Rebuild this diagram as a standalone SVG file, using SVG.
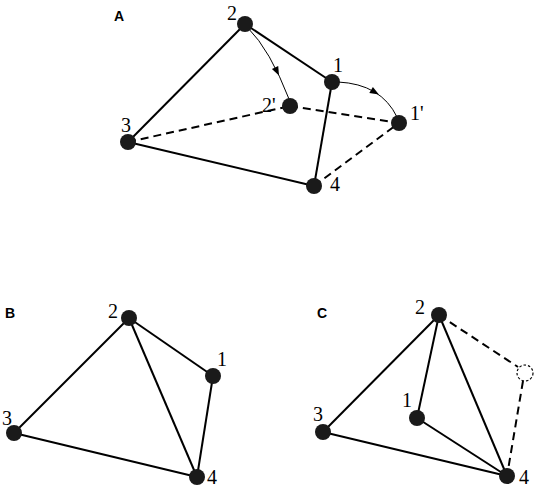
<svg xmlns="http://www.w3.org/2000/svg" width="536" height="489" viewBox="0 0 536 489">
<defs>
<style>
.e{stroke:#000;stroke-width:2;fill:none}
.d{stroke:#000;stroke-width:2;fill:none;stroke-dasharray:8 5}
.c{stroke:#000;stroke-width:1;fill:none}
.n{fill:#1a1a1a}
.t{font-family:"Liberation Serif",serif;font-size:20px;fill:#000}
.p{font-family:"Liberation Sans",sans-serif;font-size:14px;font-weight:bold;fill:#000}
</style>
</defs>
<rect width="536" height="489" fill="#fff"/>
<text class="p" x="114" y="21">A</text>
<text class="p" x="5" y="318">B</text>
<text class="p" x="317" y="318">C</text>
<g id="connectors">
<line class="e" x1="245" y1="24" x2="332" y2="82"/>
<line class="e" x1="245" y1="24" x2="128" y2="142"/>
<line class="e" x1="332" y1="82" x2="314" y2="186"/>
<line class="e" x1="128" y1="142" x2="314" y2="186"/>
<line class="d" x1="128" y1="142" x2="290" y2="106"/>
<line class="d" x1="290" y1="106" x2="399" y2="123"/>
<line class="d" x1="314" y1="186" x2="399" y2="123"/>
<path class="c" d="M248,28 Q270,50 289,99"/>
<polygon points="279,75.6 278.2,66 271.9,69" fill="#000"/>
<path class="c" d="M338,82 Q381,84 397,117"/>
<polygon points="378.9,94.5 369.3,92.9 372.9,86.9" fill="#000"/>
<line class="e" x1="129" y1="318" x2="213" y2="376"/>
<line class="e" x1="129" y1="318" x2="14" y2="433"/>
<line class="e" x1="129" y1="318" x2="197" y2="477"/>
<line class="e" x1="213" y1="376" x2="197" y2="477"/>
<line class="e" x1="14" y1="433" x2="197" y2="477"/>
<line class="e" x1="439" y1="315" x2="323" y2="432"/>
<line class="e" x1="439" y1="315" x2="417" y2="418"/>
<line class="e" x1="439" y1="315" x2="507" y2="476"/>
<line class="e" x1="417" y1="418" x2="507" y2="476"/>
<line class="e" x1="323" y1="432" x2="507" y2="476"/>
<line class="d" x1="439" y1="315" x2="518" y2="367"/>
<line class="d" x1="523" y1="381" x2="507" y2="476"/>
</g>
<g id="a2"><circle class="n" cx="245" cy="24" r="8"/><text class="t" x="227" y="20">2</text></g>
<g id="a1"><circle class="n" cx="332" cy="82" r="8"/><text class="t" x="333" y="72">1</text></g>
<g id="a2p"><circle class="n" cx="290" cy="106" r="8"/><text class="t" x="262" y="112">2'</text></g>
<g id="a1p"><circle class="n" cx="399" cy="123" r="8"/><text class="t" x="410" y="120">1'</text></g>
<g id="a3"><circle class="n" cx="128" cy="142" r="8"/><text class="t" x="121" y="132">3</text></g>
<g id="a4"><circle class="n" cx="314" cy="186" r="8"/><text class="t" x="330" y="191">4</text></g>
<g id="b2"><circle class="n" cx="129" cy="318" r="8"/><text class="t" x="108" y="318">2</text></g>
<g id="b1"><circle class="n" cx="213" cy="376" r="8"/><text class="t" x="217" y="366">1</text></g>
<g id="b3"><circle class="n" cx="14" cy="433" r="8"/><text class="t" x="2" y="425">3</text></g>
<g id="b4"><circle class="n" cx="197" cy="477" r="8"/><text class="t" x="207" y="484">4</text></g>
<g id="c2"><circle class="n" cx="439" cy="315" r="8"/><text class="t" x="415" y="314">2</text></g>
<g id="c1"><circle class="n" cx="417" cy="418" r="8"/><text class="t" x="402" y="407">1</text></g>
<g id="c3"><circle class="n" cx="323" cy="432" r="8"/><text class="t" x="313" y="421">3</text></g>
<g id="c4"><circle class="n" cx="507" cy="476" r="8"/><text class="t" x="519" y="484">4</text></g>
<g id="cghost"><circle cx="525" cy="373" r="8" fill="#fff" stroke="#000" stroke-width="1.2" stroke-dasharray="2.5 2"/></g>
</svg>
